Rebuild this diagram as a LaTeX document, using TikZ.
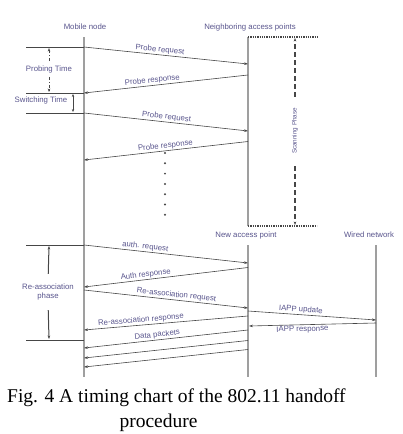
\documentclass[tikz,border=0pt]{standalone}
\usepackage{fontspec}
\setmainfont{Liberation Serif}
\newfontfamily\chartfont{Liberation Sans}
\usetikzlibrary{arrows.meta}
\definecolor{labelc}{RGB}{88,84,140}
\definecolor{linec}{RGB}{70,70,70}

\begin{document}
\begin{tikzpicture}[x=1pt,y=-1pt,
  lbl/.style={font=\chartfont\fontsize{7.8}{8.5}\selectfont,text=labelc,inner sep=1pt},
  life/.style={draw=gray!75,line width=1.5pt},
  msg/.style={draw=linec,line width=0.6pt,-{Stealth[length=4pt,width=2.6pt]}},
  bound/.style={draw=linec,line width=0.9pt},
  span/.style={draw=linec,line width=1pt,-{Stealth[length=3.5pt,width=2.6pt]}}]

\useasboundingbox (0,0) rectangle (402,434);

% lifelines and headers
\node[lbl] (mn) at (85,27) {Mobile node};
\node[lbl] (nap) at (250,27) {Neighboring access points};
\node[lbl] (newap) at (246,235) {New access point};
\node[lbl] (wn) at (369,235) {Wired network};

\coordinate (mn-top) at (84,37);
\coordinate (mn-bot) at (84,377);
\draw[life] (mn-top)--(mn-bot);

\coordinate (nap-tl) at (248,37);
\coordinate (nap-tr) at (318,37);
\coordinate (nap-bl) at (248,226);
\coordinate (nap-br) at (317,226);
\draw[life] (nap-tl)--(nap-bl);
\draw[linec,line width=1.3pt,densely dotted] (nap-tl)--(nap-tr);
\draw[linec,line width=1.3pt,densely dotted] (nap-bl)--(nap-br);

\coordinate (na-top) at (248,245);
\coordinate (na-bot) at (248,377);
\draw[life] (na-top)--(na-bot);
\coordinate (wn-top) at (376,245);
\coordinate (wn-bot) at (376,377);
\draw[life] (wn-top)--(wn-bot);

% scanning phase
\node[lbl,font=\chartfont\fontsize{6.3}{7}\selectfont,rotate=90] (scan) at (295,131) {Scanning Phase};
\coordinate (sc-top) at (295,38);
\coordinate (sc-bot) at (295,225);
\draw[span,line width=1.4pt,dash pattern=on 5pt off 3pt,shorten <=10pt] (scan.east)--(sc-top);
\draw[span,line width=1.4pt,dash pattern=on 5pt off 3pt,shorten <=11pt] (scan.west)--(sc-bot);

% probing and switching time
\coordinate (b1) at (26,47);
\coordinate (m1s) at (84,47);
\coordinate (b2) at (26,93);
\coordinate (m2e) at (84,93);
\coordinate (b3) at (26,113);
\coordinate (m3s) at (84,113);
\draw[bound] (b1)--(m1s);
\draw[bound] (b2)--(m2e);
\draw[bound] (b3)--(m3s);

\node[lbl] (probing) at (49,69) {Probing Time};
\coordinate (pt-top) at (49,48);
\coordinate (pt-bot) at (49,92);
\draw[span,dash pattern=on 3pt off 2pt on 1pt off 2pt,shorten <=3pt] (probing.north)--(pt-top);
\draw[span,dash pattern=on 3pt off 2pt on 1pt off 2pt,shorten <=3pt] (probing.south)--(pt-bot);

\node[lbl] (switching) at (41,100) {Switching Time};
\coordinate (sw-top) at (73,94);
\coordinate (sw-bot) at (73,112);
\draw[span,line width=0.7pt,{Stealth[length=3pt,width=2.4pt]}-{Stealth[length=3pt,width=2.4pt]}] (sw-top)--(sw-bot);

% probe exchange
\coordinate (m1e) at (248,64);
\coordinate (m2s) at (248,75);
\coordinate (m3e) at (248,131);
\coordinate (m4s) at (248,141.5);
\coordinate (m4e) at (84,160);
\draw[msg] (m1s)--(m1e) node[lbl,sloped,above,pos=0.46] (preq1) {Probe request};
\draw[msg] (m2s)--(m2e) node[lbl,sloped,above,pos=0.58] (pres1) {Probe response};
\draw[msg] (m3s)--(m3e) node[lbl,sloped,above,pos=0.5] (preq2) {Probe request};
\draw[msg] (m4s)--(m4e) node[lbl,sloped,above,pos=0.5] (pres2) {Probe response};

\foreach \y in {153,163.3,...,215} \fill[linec] (165,\y) circle (1.1pt);

% re-association phase
\coordinate (b4) at (26,245);
\coordinate (m5s) at (84,245);
\coordinate (b5) at (26,340);
\coordinate (b5e) at (84,340);
\draw[bound] (b4)--(m5s);
\draw[bound] (b5)--(b5e);

\node[lbl,align=center] (reas) at (48,292) {Re-association\\phase};
\coordinate (ra-top) at (49,246);
\coordinate (ra-bot) at (49,339);
\draw[span,shorten <=9pt] (reas.north)--(ra-top);
\draw[span,shorten <=9pt] (reas.south)--(ra-bot);

\coordinate (m5e) at (248,263);
\coordinate (m6s) at (248,267.5);
\coordinate (m6e) at (84,287);
\coordinate (m7s) at (84,290);
\coordinate (m7e) at (248,308);
\coordinate (m8s) at (248,311);
\coordinate (m8e) at (376,320);
\coordinate (m9s) at (376,323);
\coordinate (m9e) at (249,326);
\coordinate (m10s) at (248,316);
\coordinate (m10e) at (84,330);
\draw[msg] (m5s)--(m5e) node[lbl,sloped,above,pos=0.37] (areq) {auth. request};
\draw[msg] (m6s)--(m6e) node[lbl,sloped,above,pos=0.62] (ares) {Auth response};
\draw[msg] (m7s)--(m7e) node[lbl,sloped,above,pos=0.56] (rreq) {Re-association request};
\draw[msg] (m8s)--(m8e) node[lbl,sloped,above,pos=0.41] (iupd) {IAPP update};
\draw[msg] (m9s)--(m9e) node[lbl,sloped,below,pos=0.58] (ires) {IAPP response};
\draw[msg] (m10s)--(m10e) node[lbl,sloped,above,pos=0.65] (rres) {Re-association response};

% data packets
\coordinate (d1s) at (248,330);
\coordinate (d1e) at (84,348);
\coordinate (d2s) at (248,340.5);
\coordinate (d2e) at (84,358);
\coordinate (d3s) at (248,349.5);
\coordinate (d3e) at (84,367);
\draw[msg] (d1s)--(d1e) node[lbl,sloped,above,pos=0.55] (data) {Data packets};
\draw[msg] (d2s)--(d2e);
\draw[msg] (d3s)--(d3e);

% caption
\node[font=\fontsize{19.5}{22}\selectfont,anchor=base west,inner sep=0pt] (cap1) at (7,402) {Fig. 4 A timing chart of the 802.11 handoff};
\node[font=\fontsize{19.5}{22}\selectfont,anchor=base,inner sep=0pt] (cap2) at (158.5,427) {procedure};

\end{tikzpicture}
\end{document}
